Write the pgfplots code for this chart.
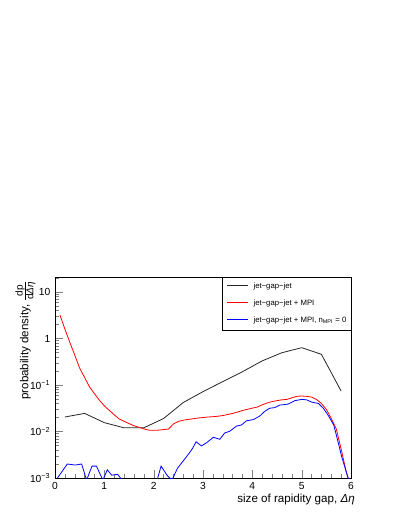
\documentclass[border=0pt]{standalone}
\usepackage{amsmath}
\usepackage{fontspec}
\setmainfont{Liberation Sans}
\usepackage{pgfplots}
\pgfplotsset{compat=1.18}

\newcommand\fr[1]{\mbox{\fontsize{7.5}{8}\selectfont #1}}

\begin{document}
\begin{tikzpicture}
\useasboundingbox (-41.25pt,-28.5pt) rectangle (258pt,358.5pt);
% legend box, behind the axis (no data reaches this corner)
\draw[line width=0.5pt, fill=white] (125.25pt,111pt) rectangle (222pt,150.75pt);
\begin{axis}[
  scale only axis, width=222pt, height=150.75pt,
  at={(0,0)}, anchor=south west,
  xmin=0, xmax=6, ymode=log, ymin=1e-3, ymax=21,
  xtick={0,1,2,3,4,5,6}, minor x tick num=4,
  ytick={1e-3,1e-2,1e-1,1,10},
  yticklabels={10\textsuperscript{−3},10\textsuperscript{−2},10\textsuperscript{−1},1,10},
  minor ytick={2e-3,3e-3,4e-3,5e-3,6e-3,7e-3,8e-3,9e-3,
               2e-2,3e-2,4e-2,5e-2,6e-2,7e-2,8e-2,9e-2,
               0.2,0.3,0.4,0.5,0.6,0.7,0.8,0.9,
               2,3,4,5,6,7,8,9,20},
  tick align=inside, xtick pos=bottom, ytick pos=left,
  major tick length=6pt, minor tick length=3pt,
  tick label style={font=\fontsize{7.7}{9}\selectfont},
  /pgf/number format/assume math mode=true,
  axis line style={line width=0.6pt},
  xlabel={size of rapidity gap, \textit{Δη}},
  xlabel style={at={(axis description cs:1,0)}, anchor=base east, inner sep=0pt,
    xshift=3pt, yshift=-18pt, font=\fontsize{8.7}{10}\selectfont},
  ylabel={probability density, $\frac{\fr{dp}}{\fr{d\textit{Δη}}}$},
  ylabel style={at={(axis description cs:0,1)}, anchor=base east, inner sep=0pt,
    yshift=19.9pt, xshift=-2.25pt, font=\fontsize{8.7}{10}\selectfont},
]
% jet-gap-jet
\addplot[color=black!85, line width=0.6pt] coordinates {
 (0.2,0.0205) (0.6,0.0245) (1.0,0.0155) (1.4,0.012) (1.8,0.012) (2.2,0.019)
 (2.6,0.042) (3.0,0.072) (3.4,0.118) (3.8,0.193) (4.2,0.33) (4.6,0.495)
 (5.0,0.634) (5.4,0.457) (5.8,0.074)};
% jet-gap-jet + MPI
\addplot[color=red, line width=0.6pt] coordinates {
 (0.1,3.2) (0.2,1.6) (0.3,0.83) (0.4,0.44) (0.5,0.23) (0.6,0.145) (0.7,0.091)
 (0.8,0.065) (0.9,0.047) (1.0,0.0356) (1.1,0.0285) (1.2,0.0229) (1.3,0.0186)
 (1.4,0.0166) (1.5,0.0148) (1.6,0.0133) (1.7,0.0123) (1.8,0.0114) (1.9,0.0107)
 (2.0,0.0106) (2.1,0.0107) (2.2,0.0110) (2.3,0.0113) (2.4,0.0145) (2.5,0.0165)
 (2.6,0.0175) (2.7,0.0182) (2.8,0.0188) (2.9,0.0195) (3.0,0.0200) (3.1,0.0205)
 (3.2,0.0208) (3.3,0.0213) (3.4,0.0220) (3.5,0.0232) (3.6,0.0245) (3.7,0.0262)
 (3.8,0.0283) (3.9,0.0300) (4.0,0.0318) (4.1,0.0335) (4.2,0.0375) (4.3,0.041)
 (4.4,0.044) (4.5,0.046) (4.6,0.048) (4.7,0.049) (4.8,0.053) (4.9,0.057)
 (5.0,0.058) (5.1,0.057) (5.2,0.055) (5.3,0.049) (5.4,0.040) (5.5,0.030)
 (5.6,0.019) (5.7,0.0115) (5.8,0.0042) (5.9,0.0014) (6.0,0.0006)};
% jet-gap-jet + MPI, n_MPI = 0
\addplot[color=blue, line width=0.6pt] coordinates {
 (0.05,0.001) (0.25,0.002) (0.41,0.0019) (0.54,0.002) (0.64,0.0009) (0.75,0.0018)
 (0.84,0.0018) (0.97,0.0009) (1.06,0.0015) (1.15,0.00115) (1.27,0.0012) (1.36,0.0009)
 (1.45,0.0003) (2.0,0.0003) (2.07,0.0009) (2.15,0.0018) (2.27,0.00115) (2.37,0.0009)
 (2.48,0.0016) (2.58,0.0022) (2.71,0.0033) (2.78,0.0042) (2.86,0.006) (2.97,0.0049)
 (3.07,0.0057) (3.21,0.0075) (3.34,0.0068) (3.44,0.0093) (3.54,0.0101) (3.68,0.0131)
 (3.78,0.0138) (3.88,0.017) (4.02,0.018) (4.15,0.0215) (4.25,0.027) (4.35,0.0316)
 (4.45,0.0326) (4.56,0.037) (4.66,0.038) (4.73,0.039) (4.86,0.046) (5.0,0.049)
 (5.1,0.048) (5.2,0.043) (5.34,0.040) (5.44,0.0316) (5.54,0.022) (5.65,0.0138)
 (5.72,0.0071) (5.81,0.0029) (5.91,0.0013) (5.97,0.0008)};
% legend keys, drawn as plots so that they keep their colour
\addplot[color=black!85, line width=0.6pt] coordinates {(3.486,13.68) (3.919,13.68)};
\addplot[color=red, line width=0.6pt] coordinates {(3.486,5.95) (3.919,5.95)};
\addplot[color=blue, line width=0.6pt] coordinates {(3.486,2.556) (3.919,2.556)};
\end{axis}
\begin{scope}[every node/.style={anchor=base west, inner sep=0pt, font=\fontsize{5.8}{7}\selectfont}]
\node at (148.7pt,142.05pt) {jet−gap−jet};
\node at (148.7pt,129.45pt) {jet−gap−jet + MPI};
\node at (148.7pt,116.65pt) {jet−gap−jet + MPI, n\textsubscript{MPI} = 0};
\end{scope}
\end{tikzpicture}
\end{document}
